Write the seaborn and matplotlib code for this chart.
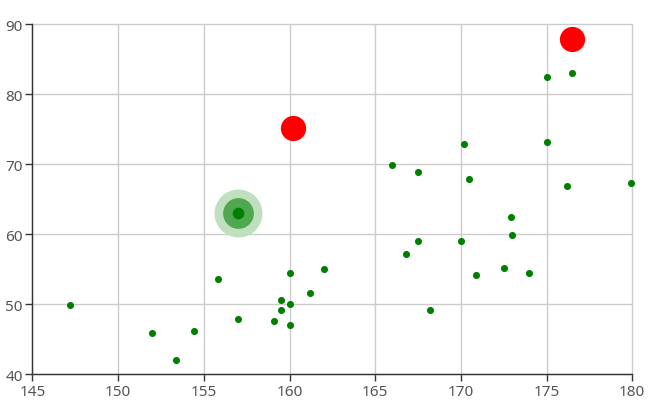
import matplotlib
matplotlib.use("Agg")
import matplotlib.pyplot as plt
import seaborn as sns
import pandas as pd

# ==================== ДАННЫЕ ====================
heights = [147.2, 152.0, 153.4, 154.4, 155.8, 157.0, 159.1, 159.5, 159.5, 160.0,
           160.0, 160.0, 161.2, 162.0, 166.0, 166.8, 167.5, 167.5, 168.2, 170.0,
           170.2, 170.5, 170.9, 172.5, 172.9, 173.0, 174.0, 175.0, 175.0, 176.2,
           176.5, 179.9]
weights = [49.8, 45.8, 42.0, 46.2, 53.6, 47.8, 47.6, 50.6, 49.2, 54.4,
           50.0, 47.0, 51.6, 55.0, 69.8, 57.2, 68.8, 59.0, 49.2, 59.0,
           72.8, 67.8, 54.2, 55.2, 62.5, 59.8, 54.5, 82.5, 73.2, 66.8,
           83.0, 67.3]

# выделенные точки
top_heights = [160.2, 176.5]
top_weights = [75.2, 87.8]
effect_height = [157.0]
effect_weight = [63.0]

x_ticks = [145, 150, 155, 160, 165, 170, 175, 180]
y_ticks = [40, 50, 60, 70, 80, 90]

df = pd.DataFrame({"height": heights, "weight": weights})
df_top = pd.DataFrame({"height": top_heights, "weight": top_weights})
df_eff = pd.DataFrame({"height": effect_height, "weight": effect_weight})

# ==================== ГРАФИК ====================
sns.set_style("white")
plt.rcParams['font.family'] = ['Noto Sans', 'DejaVu Sans']

fig = plt.figure(figsize=(6.6, 4.14), dpi=100)
ax = fig.add_axes([0.0492, 0.0942, 0.9088, 0.8454])

# эффект-кольца
sns.scatterplot(data=df_eff, x="height", y="weight", s=1190, color="#bfdfbf",
                linewidth=0, ax=ax, zorder=2)
sns.scatterplot(data=df_eff, x="height", y="weight", s=490, color="#4fa84f",
                linewidth=0, ax=ax, zorder=3)
sns.scatterplot(data=df_eff, x="height", y="weight", s=70, color="#008000",
                linewidth=0, ax=ax, zorder=4)

sns.scatterplot(data=df, x="height", y="weight", s=26, color="#008000",
                linewidth=0, ax=ax, zorder=4, clip_on=False)
sns.scatterplot(data=df_top, x="height", y="weight", s=330, color="#ff0000",
                linewidth=0, ax=ax, zorder=4, clip_on=False)

ax.set_xlim(145, 180)
ax.set_ylim(40, 90)
ax.set_xticks(x_ticks)
ax.set_yticks(y_ticks)
ax.set_xlabel("")
ax.set_ylabel("")

ax.grid(True, color="#cccccc", linewidth=1)
for gl in ax.get_xgridlines() + ax.get_ygridlines():
    gl.set_clip_on(False)
ax.set_axisbelow(True)
for side in ["top", "right"]:
    ax.spines[side].set_visible(False)
for side in ["left", "bottom"]:
    ax.spines[side].set_color("#333333")
    ax.spines[side].set_linewidth(1)
    ax.spines[side].set_zorder(5)

ax.tick_params(axis="both", which="both", direction="out", length=5, width=1,
               color="#333333", labelcolor="#555555", labelsize=11, pad=2,
               bottom=True, left=True)

fig.savefig("out.png", dpi=100)
